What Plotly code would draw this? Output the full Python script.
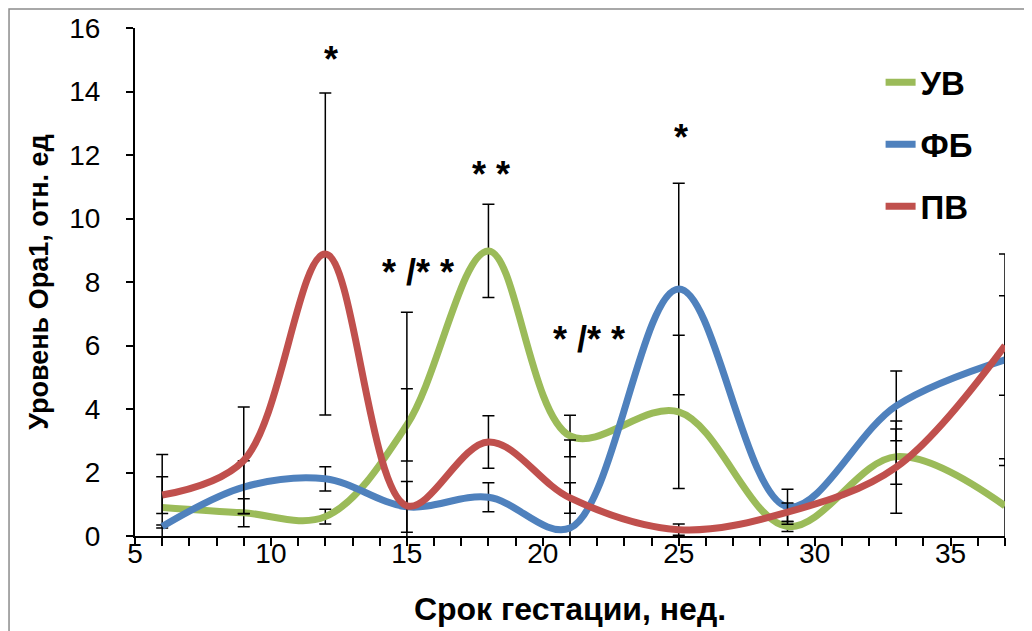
import plotly.graph_objects as go

# Gestation weeks
weeks = [6, 9, 12, 15, 18, 21, 25, 29, 33, 37]

# Series values (relative units)
uv = [0.9, 0.73, 0.61, 3.5, 8.98, 3.15, 3.91, 0.3, 2.5, 0.95]
uv_err = [1.67, 0.44, 0.23, 1.14, 1.47, 0.65, 2.41, 0.16, 0.87, 1.48]

fb = [0.3, 1.54, 1.8, 0.92, 1.22, 0.25, 7.78, 0.92, 4.1, 5.55]
fb_err = [0.05, 0.83, 0.38, 0.8, 0.46, 2.77, 3.33, 0.55, 1.1, 3.33]

pv = [1.29, 2.38, 8.88, 0.95, 2.96, 1.2, 0.2, 0.75, 2.17, 6.0]
pv_err = [0.58, 1.68, 5.07, 6.1, 0.83, 0.48, 0.18, 0.29, 1.45, 1.57]

series_names = ["УВ", "ФБ", "ПВ"]
series_colors = ["#9BBB59", "#4F81BD", "#C0504D"]

# Significance marks
mark_text = ["*", "* /* *", "* *", "* /* *", "*"]
mark_x = [12.2, 15.4, 18.1, 21.7, 25.1]
mark_y = [15.0, 8.3, 11.4, 6.2, 12.55]

FONT = "Liberation Sans, Arial, sans-serif"

fig = go.Figure()
for name, vals, errs, col in zip(series_names, [uv, fb, pv], [uv_err, fb_err, pv_err], series_colors):
    fig.add_trace(go.Scatter(
        x=weeks, y=vals, name=name, mode="lines",
        line=dict(color=col, width=7, shape="spline", smoothing=1.0),
        error_y=dict(type="data", array=errs, visible=True, color="black", thickness=1.5, width=6),
        legendgroup=name,
    ))

for t, xx, yy in zip(mark_text, mark_x, mark_y):
    fig.add_annotation(x=xx, y=yy, text=t, showarrow=False,
                       font=dict(family=FONT, size=36, color="black", weight="bold"))

# chart-area border
fig.add_shape(type="rect", xref="paper", yref="paper",
              x0=-0.1448, x1=1.05, y0=-0.25, y1=1.0374,
              line=dict(color="#8c8c8c", width=1.5), layer="below")

fig.update_layout(
    width=1032, height=631,
    margin=dict(l=127, r=35, t=20, b=103, autoexpand=False),
    paper_bgcolor="white", plot_bgcolor="white",
    font=dict(family=FONT, color="black"),
    showlegend=True,
    legend=dict(x=0.857, y=0.948, xanchor="left", yanchor="top",
                font=dict(family=FONT, size=33, weight="bold"),
                tracegroupgap=16, bgcolor="rgba(0,0,0,0)"),
    xaxis=dict(range=[5, 37], tick0=5, dtick=5, ticks="outside", ticklen=8, tickwidth=2,
               tickcolor="black", showline=True, linecolor="black", linewidth=2,
               showgrid=False, zeroline=False, automargin=False,
               ticklabelstandoff=-17,
               tickfont=dict(family=FONT, size=28),
               minor=dict(dtick=1, ticks="outside", ticklen=8, tickwidth=2, tickcolor="black", showgrid=False),
               title=dict(text="Срок гестации, нед.", font=dict(family=FONT, size=32, weight="bold"), standoff=30)),
    yaxis=dict(range=[0, 16], dtick=2, ticks="outside", ticklen=7, tickwidth=2,
               tickcolor="black", showline=True, linecolor="black", linewidth=2,
               showgrid=False, zeroline=False, automargin=False,
               ticklabelstandoff=20,
               tickfont=dict(family=FONT, size=28),
               title=dict(text="Уровень Ора1, отн. ед", font=dict(family=FONT, size=27, weight="bold"), standoff=13)),
)

fig.write_html("out.html")
